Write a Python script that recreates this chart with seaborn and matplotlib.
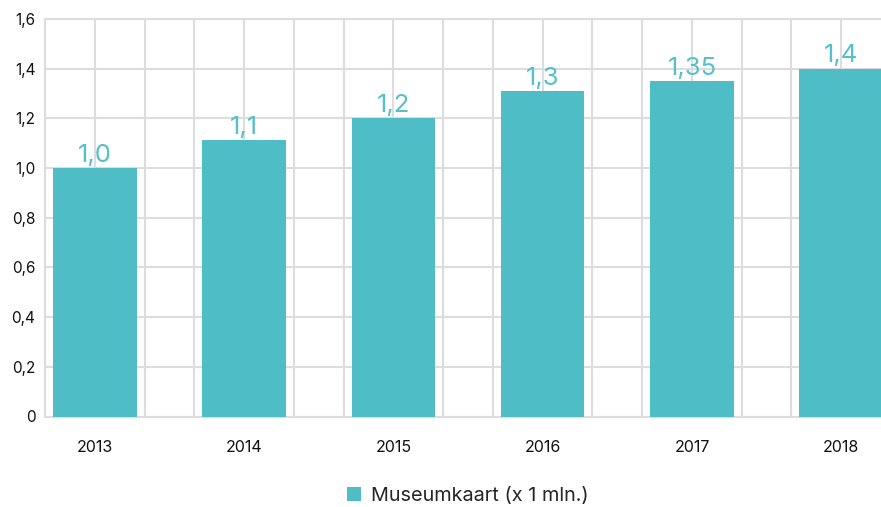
import matplotlib
matplotlib.use("Agg")
import matplotlib.pyplot as plt
import numpy as np
import pandas as pd
import seaborn as sns
from matplotlib.patches import Patch

# data
years = ["2013", "2014", "2015", "2016", "2017", "2018"]
visitors_mln = [1.0, 1.113, 1.2, 1.31, 1.35, 1.4]
bar_labels = ["1,0", "1,1", "1,2", "1,3", "1,35", "1,4"]
y_ticks = [0, 0.2, 0.4, 0.6, 0.8, 1.0, 1.2, 1.4, 1.6]
legend_label = "Museumkaart (x 1 mln.)"

BAR_COLOR = "#4EBDC6"
LABEL_COLOR = "#55C0C9"
GRID_COLOR = "#DDDDDD"

sns.set_theme(style="white")
plt.rcParams["font.family"] = ["Inter", "DejaVu Sans"]

df = pd.DataFrame({"year": years, "value": visitors_mln})

W, H = 881, 507
fig = plt.figure(figsize=(W / 100, H / 100), dpi=100)
# the plot area runs a little past the right edge of the picture, as in the reference
left, right, top, bottom = 45, 891, 19, 416.5
ax = fig.add_axes([left / W, 1 - bottom / H, (right - left) / W, (bottom - top) / H])

sns.barplot(data=df, x="year", y="value", color=BAR_COLOR, width=0.56,
            saturation=1, edgecolor="none", linewidth=0, ax=ax, zorder=3)

for container in ax.containers:
    ax.bar_label(container, labels=bar_labels, padding=1, color=LABEL_COLOR,
                 fontsize=18.5)

# grid every third of a category, bar centres on the grid
n = len(years)
ax.set_xticks(np.arange(-1 / 3, n - 0.5, 1 / 3), minor=True)
ax.set_xlim(-1 / 3, n - 1 + 1 / 3)
ax.set_ylim(0, 1.6)
ax.set_yticks(y_ticks)
ax.set_yticklabels(["0" if v == 0 else f"{v:.1f}".replace(".", ",") for v in y_ticks])

ax.grid(True, which="both", color=GRID_COLOR, linewidth=1.5, zorder=0)
ax.set_axisbelow(True)
for side in ["left", "bottom", "top"]:
    ax.spines[side].set_color(GRID_COLOR)
    ax.spines[side].set_linewidth(1.5)
ax.spines["right"].set_visible(False)

ax.tick_params(axis="both", which="both", length=0)
ax.tick_params(axis="y", pad=7, labelsize=11, labelcolor="#111111")
ax.tick_params(axis="x", pad=17, labelsize=11.5, labelcolor="#111111")
ax.set_xlabel("")
ax.set_ylabel("")

handle = Patch(facecolor=BAR_COLOR, edgecolor="none")
fig.legend([handle], [legend_label], loc="center", bbox_to_anchor=(468 / W, 1 - 496 / H),
           frameon=False, fontsize=14.3, handlelength=0.68, handleheight=0.68,
           handletextpad=0.5)

fig.savefig("out.png", dpi=100)
